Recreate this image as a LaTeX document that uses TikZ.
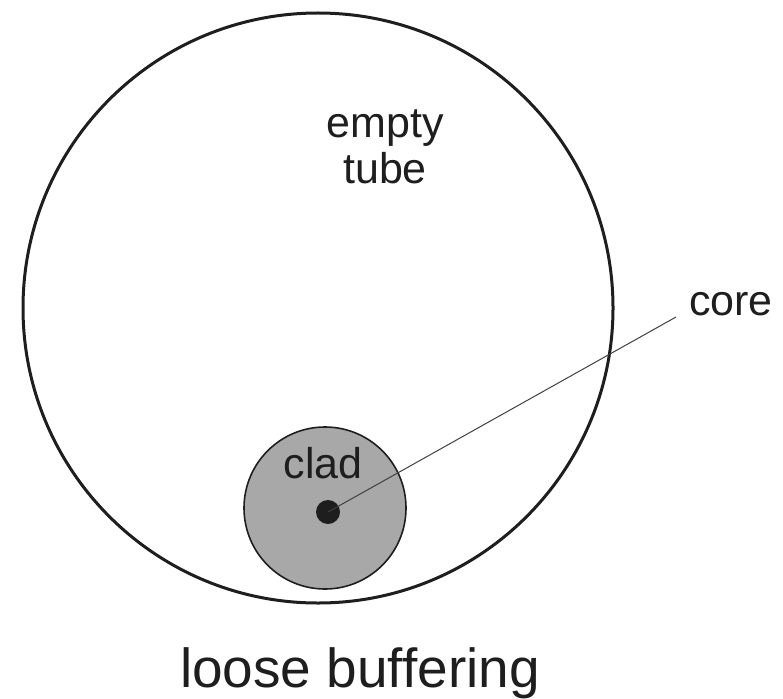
\documentclass[tikz,border=0pt]{standalone}
\usepackage{fontspec}
\setmainfont{Liberation Sans}
\definecolor{cladgray}{RGB}{168,168,168}
\definecolor{inkc}{RGB}{30,30,30}
\begin{document}
\begin{tikzpicture}[x=1pt,y=-1pt,
  tubecircle/.style={circle,draw=inkc,line width=3pt,minimum size=590pt,inner sep=0pt},
  cladcircle/.style={circle,draw=inkc,fill=cladgray,line width=1.6pt,minimum size=162pt,inner sep=0pt},
  coredot/.style={circle,fill=inkc,minimum size=24pt,inner sep=0pt},
  lbl/.style={font=\fontsize{43}{46}\selectfont,inner sep=0pt,text=inkc},
  leader/.style={draw=inkc!85,line width=1pt}]
\useasboundingbox (0,0) rectangle (783,698);
\node[tubecircle] (tube) at (318,308) {};
\node[cladcircle] (clad) at (325,508) {};
\node[coredot] (core) at (328,512) {};
\node[lbl,anchor=base] (cladlbl) at (323,478) {clad};
\node[lbl,anchor=base,align=center] (emptylbl) at (385,183) {empty\\tube};
\node[lbl,anchor=base] (corelbl) at (731,315) {core};
\coordinate (leadend) at (676,317);
\draw[leader] (core.center) -- (leadend);
\node[font=\fontsize{55}{60}\selectfont,inner sep=0pt,anchor=base,text=inkc] (caption) at (360,687) {loose buffering};
\end{tikzpicture}
\end{document}
